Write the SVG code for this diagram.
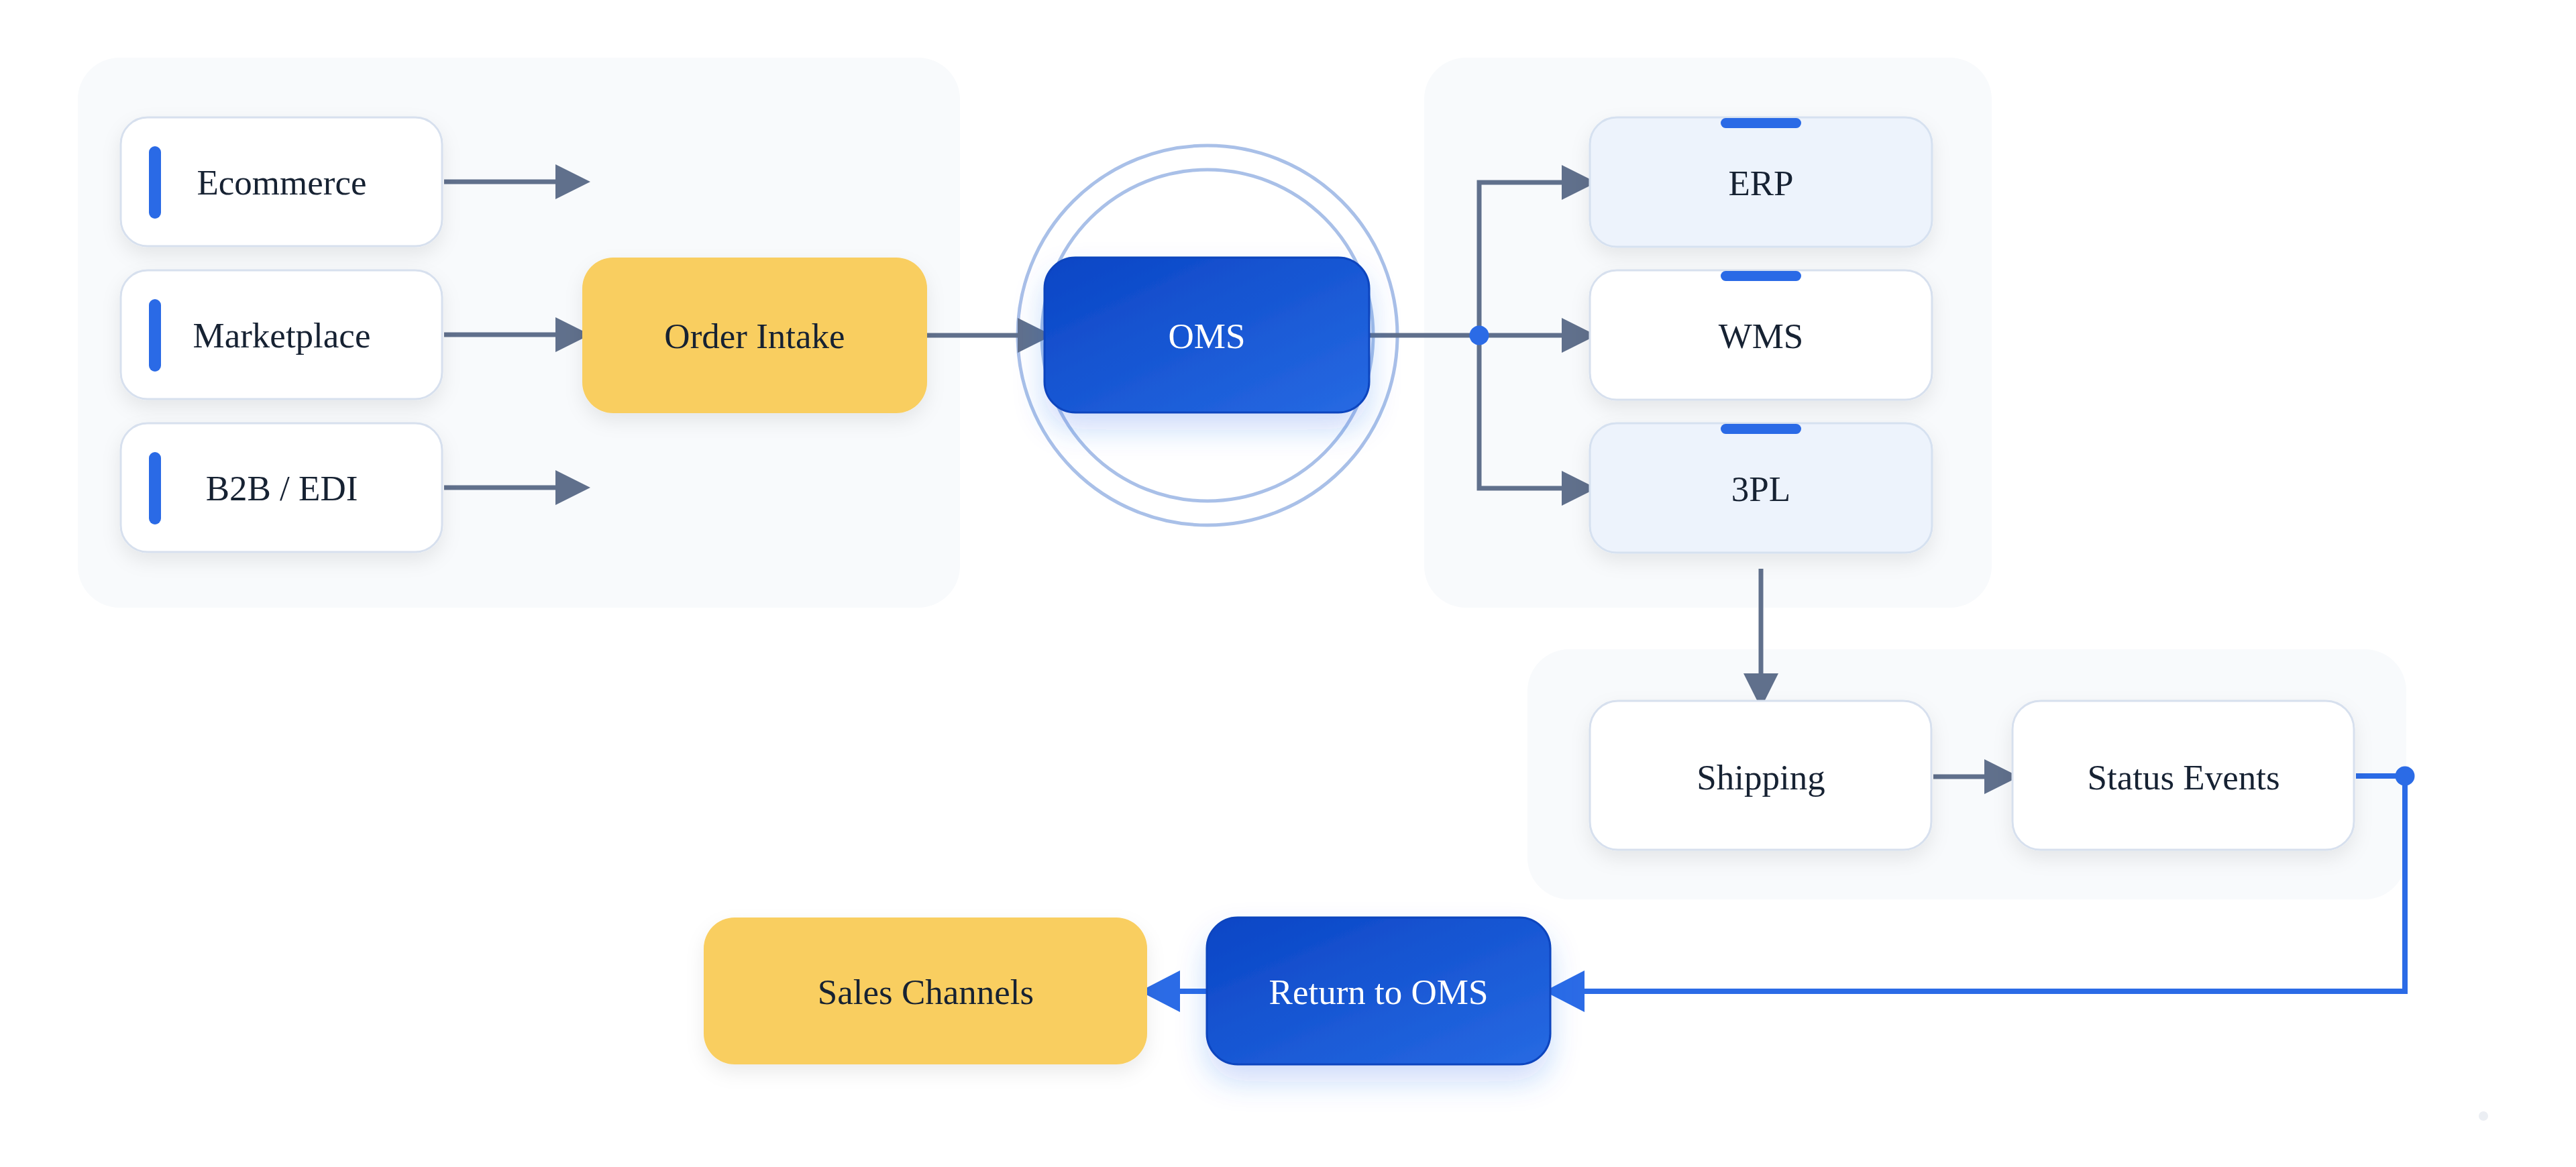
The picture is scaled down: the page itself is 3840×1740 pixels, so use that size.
<svg xmlns="http://www.w3.org/2000/svg" width="3840" height="1740" viewBox="0 0 3840 1740">
  <style>
    .panel { fill: #F8FAFC; }
    .card { fill: #FFFFFF; stroke: #D7E0EE; stroke-width: 3; }
    .card-tint { fill: #EDF3FC; stroke: #D6E1F0; stroke-width: 3; }
    .accent { fill: #2B6BE6; }
    .gold { fill: #F9CE60; }
    .core { fill: url(#coreGrad); stroke: #0B44BE; stroke-width: 3; }
    .lbl { font-family: "Liberation Serif", "Times New Roman", serif; font-size: 53px; fill: #172033; text-anchor: middle; }
    .lbl-w { font-family: "Liberation Serif", "Times New Roman", serif; font-size: 53px; fill: #FFFFFF; text-anchor: middle; }
    .ring { fill: none; stroke: #A9C0E8; stroke-width: 5; }
    .edge { fill: none; stroke: #60708C; stroke-width: 7; stroke-linejoin: miter; stroke-linecap: butt; }
    .edge-blue { fill: none; stroke: #2B6BE6; stroke-width: 8; stroke-linejoin: miter; stroke-linecap: butt; }
  </style>
  <defs>
    <linearGradient id="coreGrad" x1="0" y1="0" x2="1" y2="1">
      <stop offset="0" stop-color="#0A45C5"/>
      <stop offset="1" stop-color="#276AE3"/>
    </linearGradient>
    <filter id="shadow" x="-20%" y="-20%" width="140%" height="160%">
      <feDropShadow dx="0" dy="12" stdDeviation="14" flood-color="#0F172A" flood-opacity="0.08"/>
    </filter>
    <filter id="glow" x="-30%" y="-30%" width="160%" height="190%">
      <feDropShadow dx="0" dy="24" stdDeviation="22" flood-color="#2563EB" flood-opacity="0.22"/>
    </filter>
    <marker id="arrowGray" markerUnits="userSpaceOnUse" markerWidth="52" markerHeight="52" refX="0" refY="26" orient="auto" overflow="visible">
      <path d="M0,0 L52,26 L0,52 Z" fill="#60708C"/>
    </marker>
    <marker id="arrowBlue" markerUnits="userSpaceOnUse" markerWidth="60" markerHeight="62" refX="0" refY="31" orient="auto" overflow="visible">
      <path d="M0,0 L60,31 L0,62 Z" fill="#2B6BE6"/>
    </marker>
  </defs>

  <rect x="0" y="0" width="3840" height="1740" fill="#FFFFFF"/>

  <g id="panels">
    <rect class="panel" x="116" y="86" width="1315" height="820" rx="62"/>
    <rect class="panel" x="2123" y="86" width="846" height="820" rx="62"/>
    <rect class="panel" x="2277" y="968" width="1310" height="373" rx="62"/>
  </g>

  <g id="oms-rings">
    <circle class="ring" cx="1800" cy="500" r="283"/>
    <circle class="ring" cx="1800" cy="500" r="247"/>
  </g>

  <g id="connectors">
    <path class="edge" d="M662,271 H828" marker-end="url(#arrowGray)"/>
    <path class="edge" d="M662,499 H828" marker-end="url(#arrowGray)"/>
    <path class="edge" d="M662,727 H828" marker-end="url(#arrowGray)"/>
    <path class="edge" d="M1382,500 H1517" marker-end="url(#arrowGray)"/>
    <path class="edge" d="M2041,500 H2328" marker-end="url(#arrowGray)"/>
    <path class="edge" d="M2205,500 V272 H2328" marker-end="url(#arrowGray)"/>
    <path class="edge" d="M2205,500 V728 H2328" marker-end="url(#arrowGray)"/>
    <circle cx="2205" cy="500" r="14.5" fill="#2B6BE6"/>
    <path class="edge" d="M2625,848 V1004" marker-end="url(#arrowGray)"/>
    <path class="edge" d="M2882,1158 H2958" marker-end="url(#arrowGray)"/>
    <path class="edge-blue" d="M3512,1157 H3585 V1478 H2362" marker-end="url(#arrowBlue)"/>
    <circle cx="3585" cy="1157" r="14.5" fill="#2B6BE6"/>
    <path class="edge-blue" d="M1799,1478 H1759" marker-end="url(#arrowBlue)"/>
  </g>

  <g id="node-ecommerce" filter="url(#shadow)">
    <rect class="card" x="180" y="175" width="479" height="192" rx="40"/>
    <rect class="accent" x="222" y="218" width="18" height="108" rx="9"/>
    <text class="lbl" x="420" y="290">Ecommerce</text>
  </g>
  <g id="node-marketplace" filter="url(#shadow)">
    <rect class="card" x="180" y="403" width="479" height="192" rx="40"/>
    <rect class="accent" x="222" y="446" width="18" height="108" rx="9"/>
    <text class="lbl" x="420" y="518">Marketplace</text>
  </g>
  <g id="node-b2b" filter="url(#shadow)">
    <rect class="card" x="180" y="631" width="479" height="192" rx="40"/>
    <rect class="accent" x="222" y="674" width="18" height="108" rx="9"/>
    <text class="lbl" x="420" y="746">B2B / EDI</text>
  </g>

  <g id="node-order-intake" filter="url(#shadow)">
    <rect class="gold" x="868" y="384" width="514" height="232" rx="46"/>
    <text class="lbl" x="1125" y="519">Order Intake</text>
  </g>

  <g id="node-oms" filter="url(#glow)">
    <rect class="core" x="1557" y="384" width="484" height="231" rx="46"/>
    <text class="lbl-w" x="1799" y="519">OMS</text>
  </g>

  <g id="node-erp" filter="url(#shadow)">
    <rect class="card-tint" x="2370" y="175" width="510" height="193" rx="40"/>
    <rect class="accent" x="2565" y="176" width="120" height="15" rx="7.5"/>
    <text class="lbl" x="2625" y="291">ERP</text>
  </g>
  <g id="node-wms" filter="url(#shadow)">
    <rect class="card" x="2370" y="403" width="510" height="193" rx="40"/>
    <rect class="accent" x="2565" y="404" width="120" height="15" rx="7.5"/>
    <text class="lbl" x="2625" y="519">WMS</text>
  </g>
  <g id="node-3pl" filter="url(#shadow)">
    <rect class="card-tint" x="2370" y="631" width="510" height="193" rx="40"/>
    <rect class="accent" x="2565" y="632" width="120" height="15" rx="7.5"/>
    <text class="lbl" x="2625" y="747">3PL</text>
  </g>

  <g id="node-shipping" filter="url(#shadow)">
    <rect class="card" x="2370" y="1045" width="509" height="222" rx="42"/>
    <text class="lbl" x="2625" y="1177">Shipping</text>
  </g>
  <g id="node-status-events" filter="url(#shadow)">
    <rect class="card" x="3000" y="1045" width="509" height="222" rx="42"/>
    <text class="lbl" x="3255" y="1177">Status Events</text>
  </g>

  <g id="node-return-to-oms" filter="url(#glow)">
    <rect class="core" x="1799" y="1368" width="512" height="219" rx="46"/>
    <text class="lbl-w" x="2055" y="1497">Return to OMS</text>
  </g>
  <g id="node-sales-channels" filter="url(#shadow)">
    <rect class="gold" x="1049" y="1368" width="661" height="219" rx="46"/>
    <text class="lbl" x="1380" y="1497">Sales Channels</text>
  </g>

  <circle cx="3702" cy="1664" r="7" fill="#EBEEF3"/>
</svg>
